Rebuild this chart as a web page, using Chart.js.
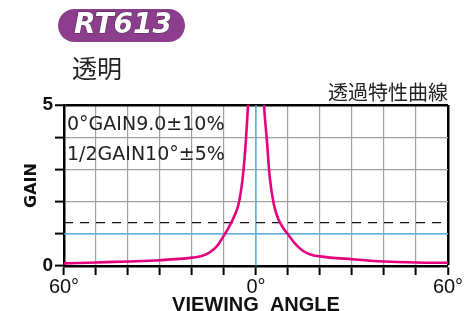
<!DOCTYPE html>
<html>
<head>
<meta charset="utf-8">
<script src="https://cdn.jsdelivr.net/npm/chart.js@4.4.1/dist/chart.umd.min.js"></script>
<style>
  html, body { margin: 0; padding: 0; background: #fff; }
  #wrap { width: 464px; height: 311px; position: relative; }
</style>
</head>
<body>
<div id="wrap"><canvas id="chart-rt613"></canvas></div>
<script>
  // Curva de transmision RT613
  var angles = [-60, -50, -40, -30, -20, -17, -14.5, -12, -10, -8.5, -7, -5.5, -4.2, -3.3, -2.5, -1.5, 0,
                1.5, 2.5, 3.4, 4.3, 5.6, 7, 8.5, 10, 12, 14.5, 17, 20, 30, 40, 50, 60];
  var gains = [0.08, 0.11, 0.14, 0.18, 0.26, 0.31, 0.42, 0.64, 0.95, 1.2, 1.5, 1.9, 2.7, 3.7, 5.0, 7.0, 9.0,
               7.0, 5.0, 3.9, 2.75, 1.9, 1.45, 1.18, 0.98, 0.72, 0.48, 0.36, 0.3, 0.21, 0.14, 0.11, 0.1];
  var dashedLevel = 1.35;
  var halfGainLevel = 1.0;
  var xRange = [-60, 60];
  var yRange = [0, 5];
  var xTickLabels = { '-60': '60°', '0': '0°', '60': '60°' };
  var yTickLabels = { '0': '0', '5': '5' };
  var productName = 'RT613';
  var subTitle = '透明';
  var curveTitle = '透過特性曲線';
  var noteLines = ['0°GAIN9.0±10%', '1/2GAIN10°±5%'];

  var PINK = '#e4007f';
  var BLUE = '#4fb6e6';
  var GRID = '#a0a0a0';

  function pts(xs, ys) {
    var out = [];
    for (var i = 0; i < xs.length; i++) out.push({ x: xs[i], y: ys[i] });
    return out;
  }

  var headerPlugin = {
    id: 'header',
    afterDraw: function (chart) {
      var c = chart.ctx;
      var area = chart.chartArea;
      c.save();
      // pastilla del modelo
      c.fillStyle = '#8c3d8e';
      c.beginPath();
      c.roundRect(58, 9, 127, 33, 16.5);
      c.fill();
      c.font = 'italic bold 28px "DejaVu Sans"';
      c.textAlign = 'center';
      c.textBaseline = 'middle';
      c.lineWidth = 1;
      c.strokeStyle = '#4a2a4c';
      c.strokeText(productName, 123, 26);
      c.fillStyle = '#fff';
      c.fillText(productName, 123, 26);

      c.fillStyle = '#222';
      c.textAlign = 'left';
      c.font = '25px "Noto Sans CJK JP"';
      c.fillText(subTitle, 72, 68);
      c.textAlign = 'right';
      c.font = '20px "Noto Sans CJK JP"';
      c.fillText(curveTitle, 448, 92);

      c.textAlign = 'left';
      c.textBaseline = 'alphabetic';
      c.font = '19px "DejaVu Sans"';
      c.fillText(noteLines[0], area.left + 3, area.top + 25);
      c.fillText(noteLines[1], area.left + 3, area.top + 55);
      c.restore();
    }
  };

  var edgeColor = function (ctx, edgeVal) {
    return ctx.tick && ctx.tick.value === edgeVal ? '#000' : GRID;
  };

  new Chart(document.getElementById('chart-rt613'), {
    type: 'line',
    data: {
      datasets: [
        {
          data: pts(angles, gains),
          borderColor: PINK,
          borderWidth: 2.6,
          pointRadius: 0,
          cubicInterpolationMode: 'monotone'
        },
        {
          data: pts(xRange, [dashedLevel, dashedLevel]),
          borderColor: '#111',
          borderWidth: 1.3,
          borderDash: [9, 7],
          pointRadius: 0
        },
        {
          data: pts(xRange, [halfGainLevel, halfGainLevel]),
          borderColor: BLUE,
          borderWidth: 1.3,
          pointRadius: 0
        },
        {
          data: pts([0, 0], yRange),
          borderColor: BLUE,
          borderWidth: 1.3,
          pointRadius: 0
        }
      ]
    },
    options: {
      responsive: true,
      maintainAspectRatio: false,
      animation: false,
      devicePixelRatio: 1,
      layout: { padding: { top: 105, right: 16, left: 0, bottom: 0 } },
      plugins: {
        legend: { display: false },
        tooltip: { enabled: false }
      },
      scales: {
        x: {
          type: 'linear',
          min: xRange[0],
          max: xRange[1],
          afterFit: function (s) { s.height = 45; },
          ticks: {
            stepSize: 10,
            autoSkip: false,
            maxRotation: 0,
            padding: 0,
            color: '#111',
            font: { family: '"Liberation Sans"', size: 20 },
            callback: function (v) { return xTickLabels[String(v)] || ''; }
          },
          grid: {
            color: function (ctx) { return edgeColor(ctx, 60); },
            lineWidth: function (ctx) { return ctx.tick && ctx.tick.value === 60 ? 2.5 : 1.2; },
            tickColor: '#000',
            tickWidth: 2,
            tickLength: 9
          },
          border: { color: '#000', width: 2.5 },
          title: {
            display: true,
            text: 'VIEWING  ANGLE',
            color: '#111',
            font: { family: '"Liberation Sans"', size: 20, weight: 'bold' },
            padding: { top: 0, bottom: -6 }
          }
        },
        y: {
          min: yRange[0],
          max: yRange[1],
          afterFit: function (s) { s.width = 64; },
          ticks: {
            stepSize: 1,
            padding: 2,
            color: '#111',
            font: { family: '"Liberation Sans"', size: 19, weight: 'bold' },
            callback: function (v) { return yTickLabels[String(v)] || ''; }
          },
          grid: {
            color: function (ctx) { return edgeColor(ctx, 5); },
            lineWidth: function (ctx) { return ctx.tick && ctx.tick.value === 5 ? 2.5 : 1.2; },
            tickColor: '#000',
            tickWidth: 2,
            tickLength: 9
          },
          border: { color: '#000', width: 2.5 },
          title: {
            display: true,
            text: 'GAIN',
            color: '#111',
            font: { family: '"DejaVu Sans"', size: 16, weight: 'bold' },
            padding: { top: 22, bottom: 0 }
          }
        }
      }
    },
    plugins: [headerPlugin]
  });
</script>
</body>
</html>
